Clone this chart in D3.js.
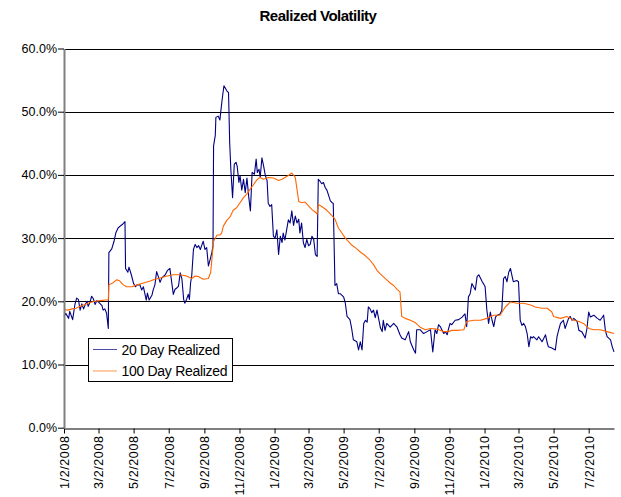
<!DOCTYPE html>
<html><head><meta charset="utf-8">
<script src="https://cdn.jsdelivr.net/npm/d3@7"></script>
<style>
body{margin:0;background:#fff}
svg{display:block}
text{font-family:"Liberation Sans",Arial,Helvetica,sans-serif;fill:#000}
</style>
</head><body>
<svg id="chart" width="621" height="497"></svg>
<script>
const chartTitle = "Realized Volatility";
const seriesNames = ["20 Day Realized", "100 Day Realized"];
const yTickValues = [0, 10, 20, 30, 40, 50, 60];
const xTickLabels = ["1/2/2008","3/2/2008","5/2/2008","7/2/2008","9/2/2008","11/2/2008",
  "1/2/2009","3/2/2009","5/2/2009","7/2/2009","9/2/2009","11/2/2009",
  "1/2/2010","3/2/2010","5/2/2010","7/2/2010"];
const xDomain = ["2008-01-02", "2010-08-15"];

const realized20 = [
["2008-01-02",17.6],["2008-01-05",18.1],["2008-01-10",17.3],["2008-01-12",18.4],["2008-01-17",17.1],
["2008-01-21",19.5],["2008-01-24",20.5],["2008-01-27",20.3],["2008-01-30",18.6],["2008-02-02",19.6],
["2008-02-05",18.8],["2008-02-08",19.5],["2008-02-11",20.0],["2008-02-13",19.2],["2008-02-16",19.8],
["2008-02-19",20.8],["2008-02-22",20.4],["2008-02-25",19.5],["2008-02-28",20.1],["2008-03-03",19.8],
["2008-03-08",19.3],["2008-03-10",18.6],["2008-03-13",18.8],["2008-03-16",18.1],["2008-03-19",15.7],
["2008-03-20",27.7],["2008-03-25",28.3],["2008-03-29",29.5],["2008-04-01",30.8],["2008-04-05",31.6],
["2008-04-10",32.0],["2008-04-13",32.2],["2008-04-17",32.6],["2008-04-18",25.2],["2008-04-22",24.6],
["2008-04-24",25.4],["2008-04-28",24.2],["2008-05-02",22.8],["2008-05-05",22.3],["2008-05-08",22.6],
["2008-05-13",22.6],["2008-05-16",21.8],["2008-05-19",22.3],["2008-05-24",20.2],["2008-05-26",21.3],
["2008-05-29",20.2],["2008-06-03",21.0],["2008-06-05",21.8],["2008-06-08",22.6],["2008-06-11",24.7],
["2008-06-14",23.9],["2008-06-17",23.0],["2008-06-20",23.7],["2008-06-26",24.2],["2008-06-30",24.9],
["2008-07-04",25.2],["2008-07-10",21.1],["2008-07-13",21.9],["2008-07-16",22.1],["2008-07-19",22.4],
["2008-07-22",24.5],["2008-07-25",23.5],["2008-07-28",20.3],["2008-07-30",19.7],["2008-08-02",20.3],
["2008-08-05",21.1],["2008-08-07",20.3],["2008-08-09",22.9],["2008-08-11",24.0],["2008-08-14",28.2],
["2008-08-17",29.0],["2008-08-20",28.5],["2008-08-23",28.8],["2008-08-26",28.2],["2008-08-29",29.0],
["2008-08-31",29.5],["2008-09-03",28.2],["2008-09-06",28.5],["2008-09-09",25.6],["2008-09-12",26.6],
["2008-09-15",27.7],["2008-09-17",28.8],["2008-09-18",44.6],["2008-09-21",46.3],["2008-09-22",49.1],
["2008-09-26",49.3],["2008-09-29",48.7],["2008-10-01",50.4],["2008-10-03",52.0],["2008-10-06",54.1],
["2008-10-11",53.3],["2008-10-14",53.0],["2008-10-16",45.1],["2008-10-18",40.9],["2008-10-21",36.4],
["2008-10-24",41.7],["2008-10-27",42.0],["2008-10-29",41.4],["2008-11-01",38.8],["2008-11-03",39.9],
["2008-11-06",37.6],["2008-11-09",39.3],["2008-11-12",37.2],["2008-11-15",39.5],["2008-11-18",36.6],
["2008-11-21",34.3],["2008-11-24",40.4],["2008-11-28",40.1],["2008-12-01",42.5],["2008-12-03",40.4],
["2008-12-06",40.9],["2008-12-08",39.6],["2008-12-11",42.7],["2008-12-14",41.4],["2008-12-17",39.9],
["2008-12-20",39.1],["2008-12-22",35.5],["2008-12-25",35.0],["2008-12-28",35.3],["2008-12-31",30.3],
["2009-01-03",30.0],["2009-01-06",31.3],["2009-01-09",27.4],["2009-01-12",30.3],["2009-01-15",29.3],
["2009-01-17",30.8],["2009-01-20",29.7],["2009-01-23",31.3],["2009-01-26",32.9],["2009-01-29",32.4],
["2009-02-01",34.3],["2009-02-04",32.0],["2009-02-07",33.5],["2009-02-10",32.4],["2009-02-13",33.0],
["2009-02-15",30.8],["2009-02-18",32.4],["2009-02-21",29.3],["2009-02-24",28.5],["2009-02-27",29.8],
["2009-03-02",28.8],["2009-03-05",29.0],["2009-03-08",30.3],["2009-03-11",29.8],["2009-03-14",27.4],
["2009-03-17",27.1],["2009-03-19",39.3],["2009-03-22",39.0],["2009-03-25",38.6],["2009-03-28",38.8],
["2009-03-31",38.0],["2009-04-03",37.6],["2009-04-09",35.9],["2009-04-12",35.6],["2009-04-14",35.5],
["2009-04-17",22.5],["2009-04-20",22.8],["2009-04-23",21.2],["2009-04-26",21.2],["2009-05-02",20.7],
["2009-05-05",19.7],["2009-05-08",17.6],["2009-05-13",17.1],["2009-05-16",15.7],["2009-05-19",13.9],
["2009-05-25",13.6],["2009-05-28",12.3],["2009-05-31",13.6],["2009-06-03",12.3],["2009-06-06",16.5],
["2009-06-09",17.0],["2009-06-12",16.7],["2009-06-14",19.1],["2009-06-17",18.8],["2009-06-20",18.2],
["2009-06-23",18.6],["2009-06-26",17.4],["2009-06-29",18.6],["2009-07-05",15.8],["2009-07-08",15.2],
["2009-07-10",17.0],["2009-07-13",15.4],["2009-07-16",16.5],["2009-07-22",15.9],["2009-07-28",16.5],
["2009-08-03",15.9],["2009-08-08",14.7],["2009-08-11",14.2],["2009-08-17",13.9],["2009-08-23",15.2],
["2009-08-26",13.6],["2009-09-01",12.3],["2009-09-04",11.8],["2009-09-06",15.5],["2009-09-12",15.5],
["2009-09-18",14.9],["2009-09-24",15.2],["2009-09-30",15.5],["2009-10-04",12.0],["2009-10-08",15.5],
["2009-10-11",14.9],["2009-10-14",16.3],["2009-10-17",16.0],["2009-10-23",14.9],["2009-10-26",15.2],
["2009-10-29",14.7],["2009-10-31",15.5],["2009-11-03",16.5],["2009-11-06",16.3],["2009-11-12",17.0],
["2009-11-18",17.1],["2009-11-24",17.5],["2009-11-27",17.8],["2009-11-29",18.0],["2009-12-02",16.0],
["2009-12-05",20.7],["2009-12-08",21.2],["2009-12-11",22.8],["2009-12-17",21.8],["2009-12-20",23.9],
["2009-12-23",24.2],["2009-12-29",23.1],["2009-12-31",22.8],["2010-01-03",22.3],["2010-01-06",18.6],
["2010-01-09",16.5],["2010-01-12",18.3],["2010-01-15",17.0],["2010-01-18",16.0],["2010-01-21",17.5],
["2010-01-24",17.8],["2010-01-29",18.0],["2010-02-01",18.6],["2010-02-04",23.6],["2010-02-07",23.9],
["2010-02-10",23.1],["2010-02-13",24.6],["2010-02-16",25.2],["2010-02-19",23.9],["2010-02-21",23.1],
["2010-02-27",23.3],["2010-03-02",23.1],["2010-03-05",17.0],["2010-03-08",16.2],["2010-03-11",16.5],
["2010-03-14",16.0],["2010-03-17",14.9],["2010-03-20",12.8],["2010-03-23",14.4],["2010-03-26",14.2],
["2010-03-28",14.4],["2010-04-03",13.9],["2010-04-06",14.4],["2010-04-12",13.6],["2010-04-18",14.7],
["2010-04-21",13.4],["2010-04-23",12.8],["2010-04-29",12.6],["2010-05-05",12.3],["2010-05-08",14.4],
["2010-05-11",15.5],["2010-05-14",16.5],["2010-05-19",17.0],["2010-05-22",15.7],["2010-05-28",17.3],
["2010-05-31",17.6],["2010-06-03",17.0],["2010-06-06",17.3],["2010-06-12",16.8],["2010-06-15",15.4],
["2010-06-20",15.2],["2010-06-26",14.2],["2010-06-29",15.7],["2010-07-02",18.3],["2010-07-05",17.5],
["2010-07-11",17.8],["2010-07-17",17.3],["2010-07-22",17.0],["2010-07-28",17.8],["2010-07-31",15.4],
["2010-08-03",14.4],["2010-08-09",13.9],["2010-08-12",12.8],["2010-08-15",12.0]
];

const realized100 = [
["2008-01-02",18.7],["2008-01-09",18.6],["2008-01-16",18.8],["2008-01-23",18.9],["2008-01-30",19.2],
["2008-02-08",19.5],["2008-02-16",19.8],["2008-02-25",20.0],["2008-03-05",20.1],["2008-03-13",20.2],
["2008-03-19",20.2],["2008-03-20",22.6],["2008-03-25",22.8],["2008-04-03",23.4],["2008-04-08",23.2],
["2008-04-14",22.6],["2008-04-20",22.3],["2008-04-29",22.3],["2008-05-08",22.6],["2008-05-19",22.9],
["2008-05-31",23.2],["2008-06-08",23.5],["2008-06-17",23.7],["2008-06-29",24.0],["2008-07-10",24.2],
["2008-07-22",24.2],["2008-08-02",24.0],["2008-08-11",23.6],["2008-08-17",24.0],["2008-08-23",23.9],
["2008-08-31",23.5],["2008-09-09",23.6],["2008-09-13",24.6],["2008-09-18",29.5],["2008-09-24",30.5],
["2008-09-29",30.5],["2008-10-02",30.8],["2008-10-05",31.9],["2008-10-11",32.8],["2008-10-17",33.4],
["2008-10-22",34.4],["2008-10-28",34.8],["2008-11-03",35.6],["2008-11-09",36.4],["2008-11-15",37.0],
["2008-11-21",37.8],["2008-11-26",38.4],["2008-12-02",39.2],["2008-12-08",39.6],["2008-12-14",39.3],
["2008-12-22",39.6],["2008-12-31",39.5],["2009-01-09",39.1],["2009-01-15",39.3],["2009-01-20",39.6],
["2009-01-26",39.9],["2009-02-01",40.3],["2009-02-07",39.6],["2009-02-13",35.8],["2009-02-18",35.6],
["2009-02-24",35.7],["2009-03-02",35.1],["2009-03-08",34.5],["2009-03-14",34.1],["2009-03-17",33.8],
["2009-03-19",35.3],["2009-03-25",35.0],["2009-03-31",34.6],["2009-04-06",34.1],["2009-04-12",33.5],
["2009-04-17",33.0],["2009-04-23",31.6],["2009-04-29",30.8],["2009-05-05",30.0],["2009-05-11",29.4],
["2009-05-16",28.9],["2009-05-25",28.3],["2009-05-31",27.8],["2009-06-09",27.2],["2009-06-17",26.5],
["2009-06-23",25.8],["2009-06-29",24.9],["2009-07-05",24.3],["2009-07-10",23.9],["2009-07-16",23.4],
["2009-07-22",22.9],["2009-07-28",22.5],["2009-08-03",21.9],["2009-08-08",21.5],["2009-08-11",17.6],
["2009-08-17",17.3],["2009-08-26",17.0],["2009-09-04",16.6],["2009-09-12",15.9],["2009-09-21",15.5],
["2009-09-30",15.7],["2009-10-11",15.6],["2009-10-23",15.2],["2009-10-31",15.2],["2009-11-06",15.4],
["2009-11-15",15.4],["2009-11-27",15.5],["2009-12-02",16.8],["2009-12-14",17.0],["2009-12-26",17.0],
["2010-01-06",17.3],["2010-01-18",17.8],["2010-01-29",17.8],["2010-02-07",19.1],["2010-02-16",19.9],
["2010-02-27",19.7],["2010-03-11",19.7],["2010-03-23",19.4],["2010-03-31",19.1],["2010-04-12",18.9],
["2010-04-21",18.9],["2010-04-29",18.3],["2010-05-02",17.6],["2010-05-14",17.3],["2010-05-25",17.6],
["2010-06-06",17.0],["2010-06-15",16.8],["2010-06-23",16.5],["2010-06-29",16.0],["2010-07-02",15.7],
["2010-07-11",15.5],["2010-07-22",15.5],["2010-08-03",15.2],["2010-08-15",14.9]
];

const seriesColors = ["#000080", "#ff6600"];

const parseDate = d3.timeParse("%Y-%m-%d");
const parseLabel = d3.timeParse("%m/%d/%Y");
const svg = d3.select("#chart");
const plotLeft = 64, plotRight = 614, plotTop = 48.5, plotBottom = 427.7;

const x = d3.scaleTime().domain(xDomain.map(parseDate)).range([plotLeft, plotRight]);
const y = d3.scaleLinear().domain([0, 60]).range([plotBottom, plotTop]);

svg.append("text").attr("x", 318).attr("y", 21).attr("text-anchor", "middle")
  .style("font-size", "15px").style("font-weight", "bold").style("letter-spacing", "-0.5px")
  .text(chartTitle);

// gridlines
svg.append("g").selectAll("line").data(yTickValues.filter(v => v > 0)).join("line")
  .attr("x1", plotLeft).attr("x2", plotRight)
  .attr("y1", d => Math.round(y(d)) + 0.5).attr("y2", d => Math.round(y(d)) + 0.5)
  .attr("stroke", "#000").attr("stroke-width", 1);

// series lines
const lineGen = d3.line().x(d => x(parseDate(d[0]))).y(d => y(d[1]));
[realized20, realized100].forEach((s, i) => {
  svg.append("path").datum(s).attr("d", lineGen).attr("fill", "none")
    .attr("stroke", seriesColors[i]).attr("stroke-width", 1.1).attr("stroke-linejoin", "round");
});

// x axis
const xAxis = d3.axisBottom(x).tickValues(xTickLabels.map(parseLabel))
  .tickFormat(d3.timeFormat("%-m/%-d/%Y")).tickSize(5).tickSizeOuter(0);
const gx = svg.append("g").attr("transform", `translate(0,${Math.round(plotBottom) + 0.5})`).call(xAxis);
gx.select(".domain").attr("stroke", "#000");
gx.selectAll(".tick line").attr("stroke", "#000");
gx.selectAll(".tick text").attr("transform", "rotate(-90)")
  .attr("text-anchor", "end").attr("x", -7).attr("y", 0).attr("dy", "0.35em")
  .style("font-size", "12.5px").style("letter-spacing", "0.6px").style("font-family", '"Liberation Sans",Arial,sans-serif');

// y axis
const yAxis = d3.axisLeft(y).tickValues(yTickValues).tickFormat(d => d.toFixed(1) + "%").tickSize(6).tickSizeOuter(0);
const gy = svg.append("g").attr("transform", `translate(${plotLeft},0)`).call(yAxis);
gy.select(".domain").attr("stroke", "#808080").attr("stroke-width", 2);
gy.selectAll(".tick line").attr("stroke", "#000");
gy.selectAll(".tick text").attr("x", -7).style("font-size", "12.5px")
  .style("font-family", '"Liberation Sans",Arial,sans-serif');

// legend
const lg = svg.append("g");
lg.append("rect").attr("x", 88.5).attr("y", 338.5).attr("width", 144).attr("height", 43)
  .attr("fill", "#fff").attr("stroke", "#000").attr("stroke-width", 1);
seriesNames.forEach((n, i) => {
  const yy = 349.5 + i * 21.5;
  lg.append("line").attr("x1", 93).attr("x2", 117).attr("y1", yy).attr("y2", yy)
    .attr("stroke", seriesColors[i]).attr("stroke-width", 1).attr("stroke-opacity", 0.7);
  lg.append("text").attr("x", 121.5).attr("y", yy + 5).style("font-size", "14px")
    .style("letter-spacing", "-0.3px").text(n);
});
</script>
</body></html>
